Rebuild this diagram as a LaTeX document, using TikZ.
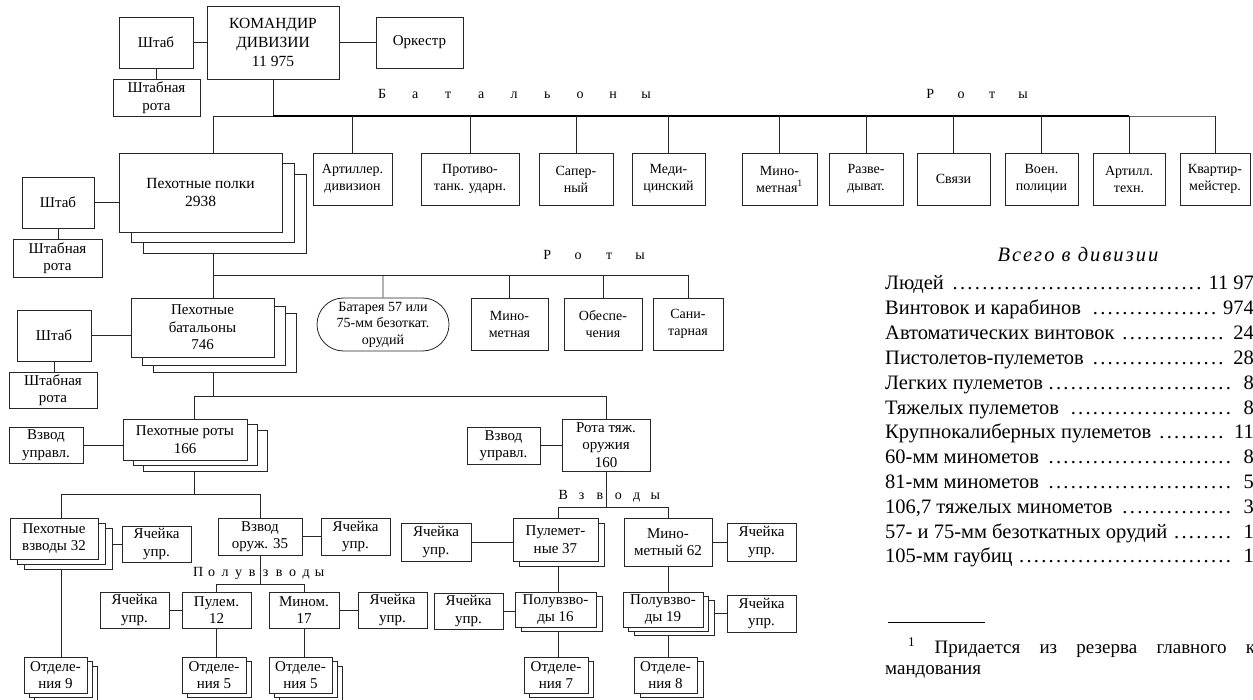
\documentclass[tikz,border=0pt]{standalone}
\usepackage{fontspec}
\setmainfont{Liberation Serif}
\usetikzlibrary{shadows,shapes.misc}
\pgfdeclarelayer{back}
\pgfdeclarelayer{bg}
\pgfsetlayers{back,bg,main}
\newlength\lsw
\newcommand\lsbox[1]{\makebox[\lsw]{#1}}
\newcommand\mydots{\leaders\hbox to 0.36em{\hss.\hss}\hfill}
\newcommand\trow[2]{\makebox[379pt][l]{#1\mydots#2}}
\begin{document}
\begin{tikzpicture}[x=1pt,y=-1pt,
  bx/.style 2 args={draw=black!85, line width=0.8pt, fill=white, rectangle, inner sep=0pt, align=center,
     font=\fontsize{15}{17.5}\selectfont, minimum width=#1pt, minimum height=#2pt},
  rb/.style={font=\fontsize{14}{17}\selectfont},
  sh/.style 2 args={general shadow={shadow scale=1, shadow xshift=#1pt, shadow yshift=-#2pt, opacity=1, fill=white, draw=black!85, line width=0.8pt}},
  ln/.style={draw=black!85, line width=0.8pt},
  thk/.style={draw=black, line width=2.2pt},
  lbl/.style={inner sep=0pt, anchor=west, font=\fontsize{14}{14}\selectfont},
  tline/.style={anchor=base west, inner sep=0pt, font=\fontsize{20.5}{24}\selectfont}]
\useasboundingbox (0,0) rectangle (1253,700);
\clip (0,0) rectangle (1253,700);
\begin{pgfonlayer}{back}
\fill[white] (0,0) rectangle (1253,700);
\end{pgfonlayer}

% ---- top
\node[bx={74}{51}] (stab1) at (156,42.5) {Штаб};
\node[bx={132}{73}, font=\fontsize{15.5}{19}\selectfont] (kom) at (273,42.5) {КОМАНДИР\\ДИВИЗИИ\\11 975};
\node[bx={87}{51}] (orch) at (419.5,42.5) {Оркестр};
\node[bx={87}{37}] (strota1) at (156.5,97.5) {Штабная\\рота};

\node[lbl] (lbat) at (365.5,94) {\setlength\lsw{33pt}\lsbox{Б}\lsbox{а}\lsbox{т}\lsbox{а}\lsbox{л}\lsbox{ь}\lsbox{о}\lsbox{н}\lsbox{ы}};
\node[lbl] (lrot1) at (914.5,94) {\setlength\lsw{31pt}\lsbox{Р}\lsbox{о}\lsbox{т}\lsbox{ы}};

% ---- row B
\node[bx={163}{79}, sh={24}{21}, sh={12}{10}, font=\fontsize{15.5}{18.5}\selectfont] (polki) at (200.5,192.5) {Пехотные полки\\2938};
\node[bx={79}{52}, rb] (art) at (352.5,179) {Артиллер.\\дивизион};
\node[bx={98}{52}, rb] (prot) at (470,179) {Противо-\\танк. ударн.};
\node[bx={74}{52}, rb] (saper) at (576,179) {Сапер-\\ный};
\node[bx={73}{52}, rb] (medic) at (668.5,179) {Меди-\\цинский};
\node[bx={75}{52}, rb] (minr) at (779.5,179) {Мино-\\метная\textsuperscript{1}};
\node[bx={74}{52}, rb] (razv) at (866,179) {Разве-\\дыват.};
\node[bx={73}{52}, rb] (svyaz) at (953.5,179) {Связи};
\node[bx={73}{52}, rb] (voen) at (1041.5,179) {Воен.\\полиции};
\node[bx={72}{52}, rb] (artt) at (1129,179) {Артилл.\\техн.};
\node[bx={70}{52}, rb] (kvart) at (1215,179) {Квартир-\\мейстер.};

\node[bx={72}{51}] (stab2) at (58,202.5) {Штаб};
\node[bx={89}{38}] (strota2) at (57.5,258) {Штабная\\рота};

% ---- battalion level
\node[lbl] (lrot2) at (531.5,255) {\setlength\lsw{31pt}\lsbox{Р}\lsbox{о}\lsbox{т}\lsbox{ы}};
\node[bx={132}{53}, rounded rectangle, font=\fontsize{14}{16.5}\selectfont] (batr) at (383,324.5) {Батарея 57 или\\75-мм безоткат.\\орудий};
\node[bx={77}{52}, rb] (minb) at (509.5,324) {Мино-\\метная};
\node[bx={78}{52}, rb] (obesp) at (603,324) {Обеспе-\\чения};
\node[bx={70}{52}, rb] (sanit) at (688,324) {Сани-\\тарная};

\node[bx={143}{59}, sh={22}{15}, sh={11}{8}] (bat) at (202.5,327.5) {Пехотные\\батальоны\\746};
\node[bx={74}{51}] (stab3) at (54,335.5) {Штаб};
\node[bx={88}{36}] (strota3) at (53,390) {Штабная\\рота};

% ---- company level
\node[bx={124}{41}, sh={20}{11}, sh={10}{5}] (roty) at (185,439.5) {Пехотные роты\\166};
\node[bx={74}{36}] (vzu1) at (46,445) {Взвод\\управл.};
\node[bx={88}{52}] (rotat) at (606,445) {Рота тяж.\\оружия\\160};
\node[bx={73}{37}] (vzu2) at (503.5,445.5) {Взвод\\управл.};

% ---- platoon level
\node[bx={88}{41}, sh={14}{10}, sh={7}{5}] (vzv) at (54,538.5) {Пехотные\\взводы 32};
\node[bx={69}{36}] (y1) at (156.5,544) {Ячейка\\упр.};
\node[bx={84}{37}] (vzor) at (260,536.5) {Взвод\\оруж. 35};
\node[bx={69}{37}] (y2) at (355.5,536.5) {Ячейка\\упр.};
\node[lbl] (lpol) at (191.25,573) {\setlength\lsw{13.5pt}\lsbox{П}\lsbox{о}\lsbox{л}\lsbox{у}\lsbox{в}\lsbox{з}\lsbox{в}\lsbox{о}\lsbox{д}\lsbox{ы}};
\node[bx={69}{36}] (pulem) at (216.5,610) {Пулем.\\12};
\node[bx={70}{36}] (minm) at (304,610) {Мином.\\17};
\node[bx={69}{36}] (y3) at (134.5,610) {Ячейка\\упр.};
\node[bx={69}{36}] (y4) at (392.5,610) {Ячейка\\упр.};
\node[bx={63}{36}, sh={10}{9}, sh={5}{4}] (otd9) at (55.5,675) {Отделе-\\ния 9};
\node[bx={64}{36}, sh={5}{4}] (otd5a) at (214,675) {Отделе-\\ния 5};
\node[bx={63}{36}, sh={10}{9}, sh={5}{4}] (otd5b) at (300.5,675) {Отделе-\\ния 5};

\node[lbl] (lvzv) at (553.8,496) {\setlength\lsw{18.4pt}\lsbox{В}\lsbox{з}\lsbox{в}\lsbox{о}\lsbox{д}\lsbox{ы}};
\node[bx={85}{43}, sh={6}{5}] (pn) at (555.5,539.5) {Пулемет-\\ные 37};
\node[bx={88}{48}] (mn) at (668,542) {Мино-\\метный 62};
\node[bx={70}{38}] (y5) at (436,542) {Ячейка\\упр.};
\node[bx={69}{38}] (y6) at (761.5,542) {Ячейка\\упр.};
\node[bx={81}{35}, sh={6}{4}] (p16) at (555.5,609.5) {Полувзво-\\ды 16};
\node[bx={69}{36}] (y7) at (468.5,611) {Ячейка\\упр.};
\node[bx={80}{35}, sh={11}{8}, sh={5}{4}] (p19) at (663,609.5) {Полувзво-\\ды 19};
\node[bx={69}{37}] (y8) at (761.5,613.5) {Ячейка\\упр.};
\node[bx={64}{36}, sh={5}{4}] (otd7) at (556,675) {Отделе-\\ния 7};
\node[bx={63}{36}, sh={6}{4}] (otd8) at (665.5,675) {Отделе-\\ния 8};

% ---- bar coordinates
\coordinate (b1) at (273,116);
\coordinate (b1l) at (213,116);
\coordinate (b2) at (213,275);
\coordinate (b3) at (213,396);
\coordinate (b3l) at (194,396);
\coordinate (b4) at (194,494);
\coordinate (b4l) at (61,494);
\coordinate (b5) at (260,584);
\coordinate (b6) at (606,507);
\coordinate (b6l) at (558,507);
\coordinate (b6r) at (668,507);

\begin{pgfonlayer}{bg}
\draw[ln] (stab1) -- (kom);
\draw[ln] (kom) -- (orch);
\draw[ln] (stab1) -- (stab1 |- strota1);
\draw[ln] (kom) -- (b1);
\draw[ln] (b1l) -- (b1);
\draw[thk] (b1) -- (artt |- b1);
\draw[ln, draw=black!60] (artt |- b1) -- (kvart |- b1);
\foreach \n in {art,prot,saper,medic,minr,razv,svyaz,voen,artt,kvart}
  \draw[ln] (\n |- b1) -- (\n);
\draw[ln] (b1l) -- (b3);
\draw[ln] (stab2) -- (stab2 -| polki);
\draw[ln] (stab2) -- (stab2 |- strota2);
\draw[ln] (b2) -- (sanit |- b2);
\foreach \n in {batr,minb,obesp,sanit}
  \draw[ln] (\n |- b2) -- (\n);
\draw[ln] (stab3) -- (stab3 -| bat);
\draw[ln] (stab3) -- (stab3 |- strota3);
\draw[ln] (b3l) -- (rotat |- b3) -- (rotat);
\draw[ln] (b3l) -- (b4);
\draw[ln] (vzu1) -- (vzu1 -| roty);
\draw[ln] (vzu2) -- (vzu2 -| rotat);
\draw[ln] (b4l) -- (vzor |- b4) -- (vzor);
\draw[ln] (b4l) -- (b4l |- otd9);
\draw[ln] (y1) -- (y1 -| vzv);
\draw[ln] (vzor) -- (y2);
\draw[ln] (vzor) -- (b5);
\draw[ln] (pulem) -- (pulem |- b5) -- (minm |- b5) -- (minm);
\draw[ln] (y3) -- (pulem);
\draw[ln] (minm) -- (y4);
\draw[ln] (pulem) -- (pulem |- otd5a);
\draw[ln] (minm) -- (minm |- otd5b);
\draw[ln] (rotat) -- (b6);
\draw[ln] (b6l) -- (b6r);
\draw[ln] (b6l) -- (b6l |- otd7);
\draw[ln] (b6r) -- (b6r |- otd8);
\draw[ln] (y5) -- (y5 -| pn);
\draw[ln] (mn) -- (y6);
\draw[ln] (y7) -- (y7 -| p16);
\draw[ln] (y8) -- (y8 -| p19);
\end{pgfonlayer}

% ---- totals
\node[anchor=base, inner sep=0pt, font=\fontsize{20.5}{24}\selectfont\itshape\addfontfeature{LetterSpace=10}] (vsego) at (1078,262) {Всего в дивизии};
\node[tline] (t1) at (885,290) {\trow{Людей }{11 975}};
\node[tline] (t2) at (885,314.8) {\trow{Винтовок и карабинов }{ 9746}};
\node[tline] (t3) at (885,339.6) {\trow{Автоматических винтовок }{ 246}};
\node[tline] (t4) at (885,364.4) {\trow{Пистолетов-пулеметов }{ 285}};
\node[tline] (t5) at (885,389.2) {\trow{Легких пулеметов}{ 81}};
\node[tline] (t6) at (885,414) {\trow{Тяжелых пулеметов }{ 84}};
\node[tline] (t7) at (885,438.8) {\trow{Крупнокалиберных пулеметов }{ 119}};
\node[tline] (t8) at (885,463.6) {\trow{60-мм минометов }{ 84}};
\node[tline] (t9) at (885,488.4) {\trow{81-мм минометов }{ 54}};
\node[tline] (t10) at (885,513.2) {\trow{106,7 тяжелых минометов }{ 36}};
\node[tline] (t11) at (885,538) {\trow{57- и 75-мм безоткатных орудий}{ 18}};
\node[tline] (t12) at (885,562.8) {\trow{105-мм гаубиц}{ 18}};
\draw[line width=0.8pt] (888,622) -- (985,622);
\node[anchor=base west, inner sep=0pt, font=\fontsize{19}{21}\selectfont] (fn1) at (908,653) {\makebox[347pt][s]{\textsuperscript{1} Придается из резерва главного к}};
\node[anchor=base west, inner sep=0pt, font=\fontsize{19}{21}\selectfont] (fn2) at (885,674) {мандования};
\end{tikzpicture}
\end{document}
